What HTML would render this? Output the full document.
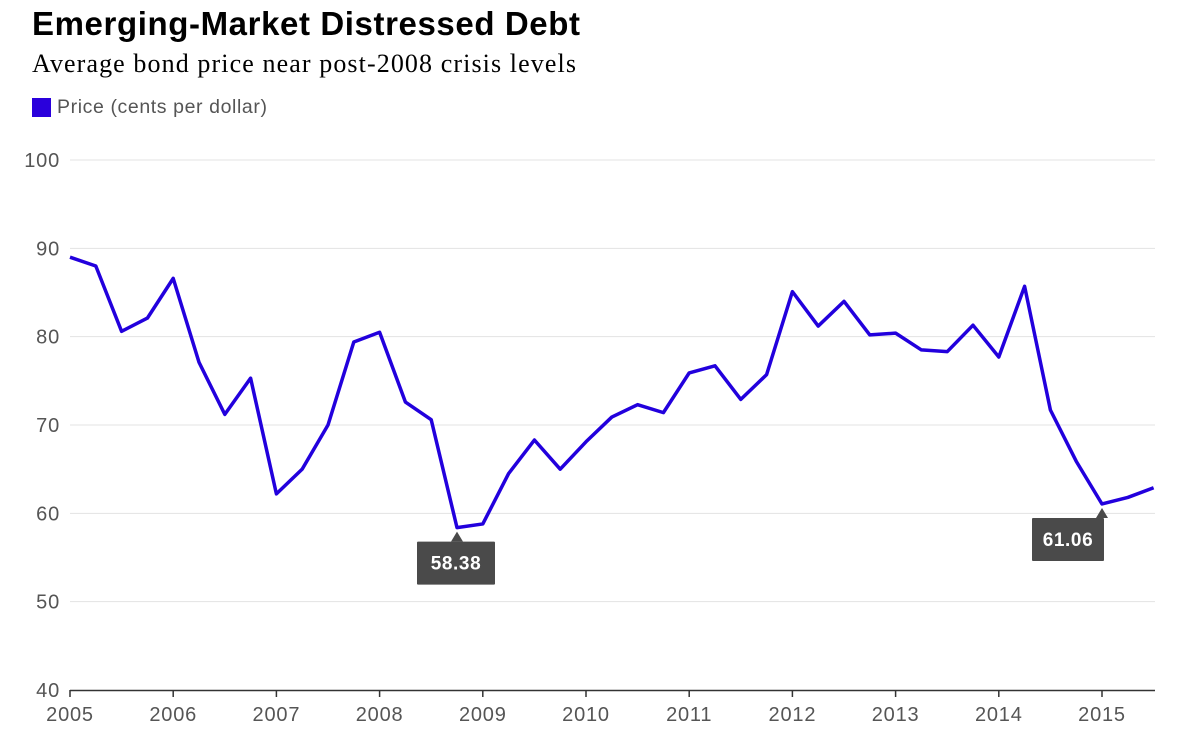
<!DOCTYPE html>
<html><head><meta charset="utf-8"><style>
body{margin:0;background:#fff;width:1200px;height:740px;overflow:hidden;font-family:"Liberation Sans",sans-serif}
#title{position:absolute;left:32px;top:5px;font-size:33px;font-weight:bold;color:#000;letter-spacing:0.6px}
#sub{position:absolute;left:32px;top:49px;font-family:"Liberation Serif",serif;font-size:26px;color:#000;letter-spacing:1.1px}
#legend{position:absolute;left:32px;top:96px;font-size:19.5px;color:#555;display:flex;align-items:center;letter-spacing:0.6px}
#legend span.sw{display:inline-block;width:19px;height:19px;background:#2a00dc;margin-right:6px}
svg{position:absolute;left:0;top:0}
</style></head><body>
<div id="title">Emerging-Market Distressed Debt</div>
<div id="sub">Average bond price near post-2008 crisis levels</div>
<div id="legend"><span class="sw"></span>Price (cents per dollar)</div>
<svg id="chart" width="1200" height="740"></svg>
<script>
const yTicks=[40,50,60,70,80,90,100];
const xYears=[2005,2006,2007,2008,2009,2010,2011,2012,2013,2014,2015];
const prices=[89.0,88.0,80.6,82.1,86.6,77.1,71.2,75.3,62.2,65.0,70.0,79.4,80.5,72.6,70.6,58.38,58.8,64.5,68.3,65.0,68.1,70.9,72.3,71.4,75.9,76.7,72.9,75.7,85.1,81.2,84.0,80.2,80.4,78.5,78.3,81.3,77.7,85.7,71.7,65.9,61.06,61.8,62.9];
const startYear=2005;
const ns="http://www.w3.org/2000/svg",svg=document.getElementById('chart');
const x=t=>70+(t-2005)*103.2;
const y=v=>690-(v-40)*(530/60);
function mk(tag,a,p){const e=document.createElementNS(ns,tag);for(const k in a)e.setAttribute(k,a[k]);(p||svg).appendChild(e);return e;}
yTicks.forEach(v=>{
 if(v>40){const g=mk('line',{x1:70,x2:1155,y1:y(v),y2:y(v),stroke:'#e3e3e3','stroke-width':1});
 
 }
 const t=mk('text',{x:60,y:y(v)+7,'text-anchor':'end','font-size':20,'letter-spacing':0.8,fill:'#555'});t.textContent=v;
 
 
});
const ax=mk('line',{x1:70,x2:1155,y1:690.5,y2:690.5,stroke:'#333','stroke-width':1.5});


xYears.forEach(yr=>{
 mk('line',{x1:x(yr),x2:x(yr),y1:690,y2:697,stroke:'#333','stroke-width':1.5});
 const t=mk('text',{x:x(yr),y:721,'text-anchor':'middle','font-size':20,'letter-spacing':0.8,fill:'#555'});t.textContent=yr;
 
 
});
const pts=prices.map((v,i)=>[x(startYear+i/4),y(v)]);
const line=mk('polyline',{points:pts.map(p=>p.join(',')).join(' '),fill:'none',stroke:'#2200dd','stroke-width':3.5,'stroke-linejoin':'round'});


function callout(i,dx,w){
 const [px,py]=pts[i];const bx=px+dx,by=py+14,h=43;
 const g=mk('g',{});
 
 
 mk('polygon',{points:`${px},${py+4} ${px-6},${by} ${px+6},${by}`,fill:'#4a4a4a'},g);
 mk('rect',{x:bx,y:by,width:w,height:h,fill:'#4a4a4a',rx:1},g);
 const t=mk('text',{x:bx+w/2,y:by+28,'text-anchor':'middle','font-size':19,'font-weight':'bold','letter-spacing':0.6,fill:'#fff'},g);
 t.textContent=prices[i].toFixed(2);
}
callout(15,-40,78);
callout(40,-70,72);
</script>
</body></html>
